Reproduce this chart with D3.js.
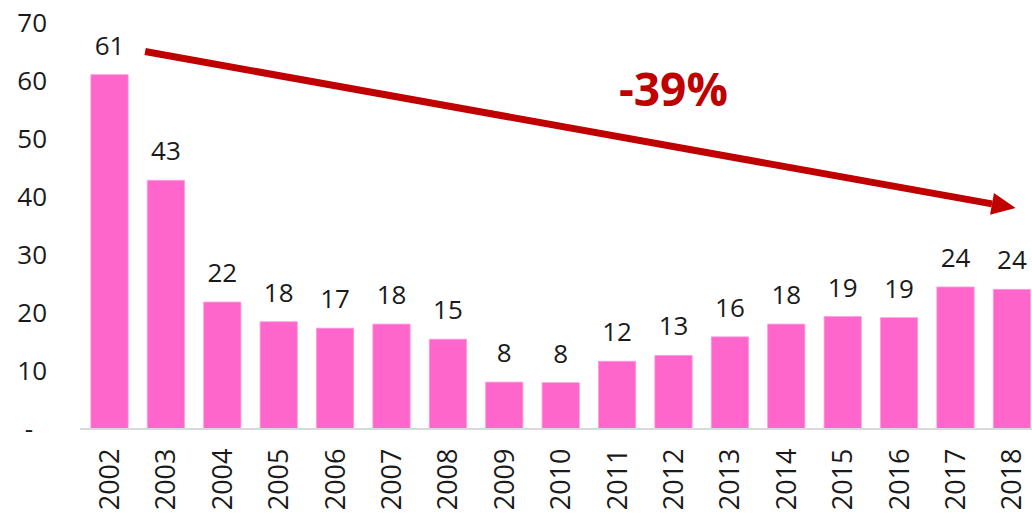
<!DOCTYPE html>
<html>
<head>
<meta charset="utf-8">
<script src="https://cdn.jsdelivr.net/npm/d3@7"></script>
<style>
  body { margin: 0; background: #fff; }
  svg { display: block; }
  text { font-family: "Open Sans", "Liberation Sans", sans-serif; }
</style>
</head>
<body>
<script>
const years = ['2002', '2003', '2004', '2005', '2006', '2007', '2008', '2009', '2010',
    '2011', '2012', '2013', '2014', '2015', '2016', '2017', '2018'];

const values = [61.0, 42.8, 21.8, 18.4, 17.3, 18.0, 15.4, 8.0, 7.9,
    11.6, 12.6, 15.8, 18.0, 19.3, 19.1, 24.4, 24.0];

const yTicks = [0, 10, 20, 30, 40, 50, 60, 70];

const changeLabel = '-39%';

const width = 1032;
const height = 515;

const svg = d3.select('body').append('svg')
    .attr('width', width)
    .attr('height', height);

const x = d3.scaleBand()
    .domain(years)
    .range([81.3, 1040.1])
    .paddingInner(0.34)
    .paddingOuter(0.17);

const y = d3.scaleLinear()
    .domain([0, 70])
    .range([428.5, 22.5]);

// y axis labels only (no line, no ticks)
const yAxis = svg.append('g')
    .attr('transform', 'translate(47,0)')
    .call(d3.axisLeft(y)
        .tickValues(yTicks)
        .tickSize(0)
        .tickPadding(0)
        .tickFormat(d => (d === 0 ? '-' : d)));
yAxis.select('.domain').remove();
yAxis.selectAll('text')
    .attr('font-size', 26)
    .attr('fill', '#1a1a1a')
    .style('font-family', '"Open Sans", sans-serif')
    .attr('dy', '0.35em')
    .attr('x', d => (d === 0 ? -14 : 0));

// bars
svg.selectAll('.bar')
    .data(values)
    .enter().append('rect')
    .attr('class', 'bar')
    .attr('x', (d, i) => x(years[i]))
    .attr('y', d => y(d))
    .attr('width', x.bandwidth())
    .attr('height', d => y(0) - y(d))
    .attr('fill', '#ff66cc')
    .attr('stroke', '#ff99dd')
    .attr('stroke-width', 0.8);

// baseline
svg.append('line')
    .attr('x1', 80)
    .attr('x2', width)
    .attr('y1', y(0) + 0.5)
    .attr('y2', y(0) + 0.5)
    .attr('stroke', '#d9d9d9')
    .attr('stroke-width', 2);

// value labels
svg.selectAll('.val')
    .data(values)
    .enter().append('text')
    .attr('class', 'val')
    .attr('x', (d, i) => x(years[i]) + x.bandwidth() / 2)
    .attr('y', d => y(d) - 20)
    .attr('text-anchor', 'middle')
    .attr('font-size', 26)
    .attr('fill', '#1a1a1a')
    .text(d => Math.round(d));

// x labels, rotated
const xAxis = svg.append('g')
    .attr('transform', `translate(0,${y(0)})`)
    .call(d3.axisBottom(x).tickSize(0).tickPadding(0));
xAxis.select('.domain').remove();
xAxis.selectAll('text')
    .attr('font-size', 27)
    .attr('fill', '#1a1a1a')
    .style('font-family', '"Open Sans", sans-serif')
    .attr('text-anchor', 'end')
    .attr('transform', 'rotate(-90)')
    .attr('x', -20)
    .attr('y', 0)
    .attr('dy', '0.35em');

// trend arrow
const x0 = x('2002') + x.bandwidth() + 17;
const y0 = y(65);
const x1 = x('2018') + x.bandwidth() * 0.6;
const y1 = y(38);
const ang = Math.atan2(y1 - y0, x1 - x0);
const headLen = 24;
const headW = 11;
const bx = x1 - headLen * Math.cos(ang);
const by = y1 - headLen * Math.sin(ang);

svg.append('line')
    .attr('x1', x0)
    .attr('y1', y0)
    .attr('x2', bx)
    .attr('y2', by)
    .attr('stroke', '#c00000')
    .attr('stroke-width', 7);

svg.append('path')
    .attr('d', `M${x1},${y1}`
        + `L${bx - headW * Math.sin(ang)},${by + headW * Math.cos(ang)}`
        + `L${bx + headW * Math.sin(ang)},${by - headW * Math.cos(ang)}Z`)
    .attr('fill', '#c00000');

svg.append('text')
    .attr('x', 619)
    .attr('y', 106)
    .attr('font-size', 46)
    .attr('font-weight', 'bold')
    .attr('fill', '#c00000')
    .text(changeLabel);
</script>
</body>
</html>
